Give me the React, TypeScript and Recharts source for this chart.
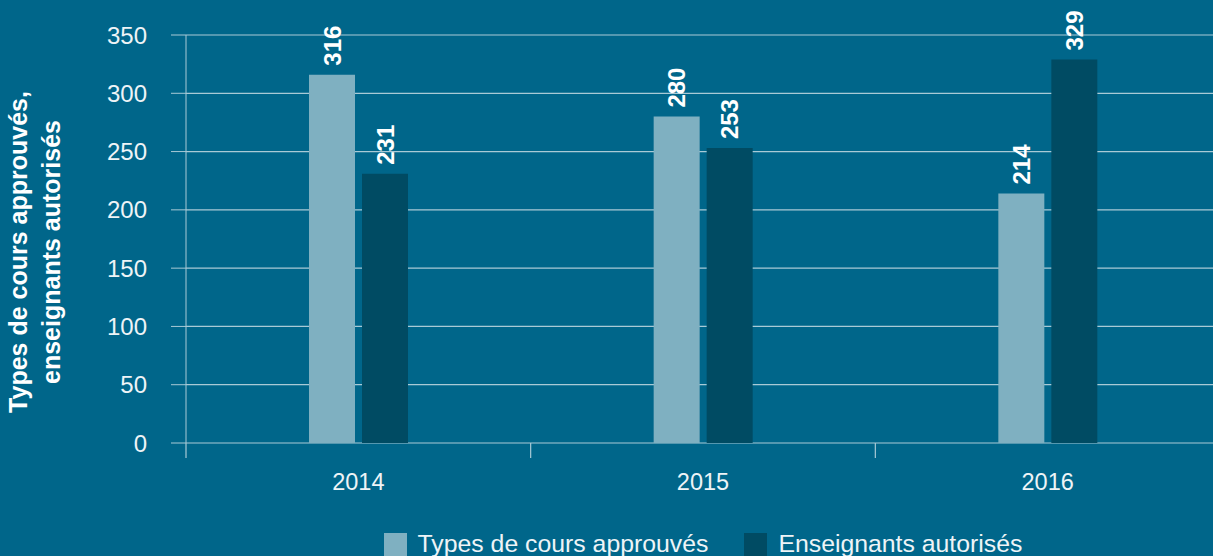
import React from 'react';
import { BarChart, Bar, XAxis, YAxis, CartesianGrid, Legend, LabelList } from 'recharts';

const years = ['2014', '2015', '2016'];
const coursTypes = [316, 280, 214];
const enseignants = [231, 253, 329];
const yTicks = [0, 50, 100, 150, 200, 250, 300, 350];
const seriesNames = ['Types de cours approuvés', 'Enseignants autorisés'];
const axisTitle = ['Types de cours approuvés,', 'enseignants autorisés'];

const data = years.map((year, i) => ({ year, cours: coursTypes[i], ens: enseignants[i] }));

const FONT = '"Liberation Sans", Arial, Helvetica, sans-serif';
const BG = '#00668a';
const LIGHT = '#7fb0c1';
const DARK = '#004b63';
const GRID = '#a9cad6';
const TEXT = '#eef4f7';
const colors = [LIGHT, DARK];
const X_TICK_MARGIN = 30;
const X_TICK_LEN = 15;

const BarLabel = (props: any) => {
  const { x, y, width, value } = props;
  const fs = 24;
  const cx = x + width / 2 + fs * 0.36;
  const cy = y - 9;
  return (
    <text x={cx} y={cy} transform={`rotate(-90 ${cx} ${cy})`} fill="#ffffff" fontSize={fs}
      fontWeight="bold" textAnchor="start" fontFamily={FONT}>{value}</text>
  );
};

const YearTick = (props: any) => {
  const { x, y, payload, index, visibleTicksCount } = props;
  const half = payload && typeof payload.offset === 'number' ? payload.offset : 0;
  const axisY = y - X_TICK_MARGIN;
  return (
    <g>
      {half > 0 && <line x1={x - half} x2={x - half} y1={axisY} y2={axisY + X_TICK_LEN} stroke={GRID} strokeWidth={1.2} />}
      {half > 0 && index === visibleTicksCount - 1 && (
        <line x1={x + half} x2={x + half} y1={axisY} y2={axisY + X_TICK_LEN} stroke={GRID} strokeWidth={1.2} />
      )}
      <text x={x} y={y} dy="0.71em" textAnchor="middle" fill={TEXT} fontSize={23.5} fontFamily={FONT}>{payload.value}</text>
    </g>
  );
};

const AxisTitle = (props: any) => {
  const vb = props.viewBox || { x: 0, y: 35, width: 186, height: 408 };
  const cy = vb.y + vb.height / 2 + 13;
  return (
    <g>
      {axisTitle.map((t, i) => {
        const cx = vb.x + 27 + i * 33;
        return (
          <text key={i} x={cx} y={cy} transform={`rotate(-90 ${cx} ${cy})`} textAnchor="middle"
            fill="#ffffff" fontSize={25} fontWeight="bold" fontFamily={FONT}>{t}</text>
        );
      })}
    </g>
  );
};

const LegendContent = () => (
  <div style={{ display: 'flex', justifyContent: 'center', alignItems: 'center', height: 26, gap: 36, fontFamily: FONT, fontSize: 24.8, color: TEXT, lineHeight: '26px' }}>
    {seriesNames.map((n, i) => (
      <div key={i} style={{ display: 'flex', alignItems: 'center' }}>
        <span style={{ width: 23, height: 23, background: colors[i], marginRight: 11, display: 'inline-block' }} />
        <span>{n}</span>
      </div>
    ))}
  </div>
);

export default function App() {
  return (
    <div style={{ position: 'absolute', left: 0, top: 0, width: 1213, height: 556, overflow: 'hidden', background: BG }}>
      <BarChart width={1220} height={556} data={data} margin={{ top: 35, right: 0, bottom: 0, left: 0 }} barGap={7} barSize={46}>
        <CartesianGrid vertical={false} stroke={GRID} strokeWidth={1.2} />
        <XAxis dataKey="year" tickLine={false} axisLine={false} tickSize={0} tickMargin={X_TICK_MARGIN} height={87}
          tick={YearTick} />
        <YAxis width={186} domain={[0, 350]} ticks={yTicks} tickSize={15} tickMargin={24}
          tickLine={{ stroke: GRID }} axisLine={{ stroke: GRID }}
          tick={{ fontSize: 24, fill: TEXT, fontFamily: FONT }} label={{ content: AxisTitle }} />
        <Legend content={LegendContent} wrapperStyle={{ top: 531, bottom: 'auto', left: 186, width: 1034, height: 26 }} />
        <Bar dataKey="cours" name={seriesNames[0]} fill={LIGHT} isAnimationActive={false}>
          <LabelList dataKey="cours" content={BarLabel} />
        </Bar>
        <Bar dataKey="ens" name={seriesNames[1]} fill={DARK} isAnimationActive={false}>
          <LabelList dataKey="ens" content={BarLabel} />
        </Bar>
      </BarChart>
    </div>
  );
}
